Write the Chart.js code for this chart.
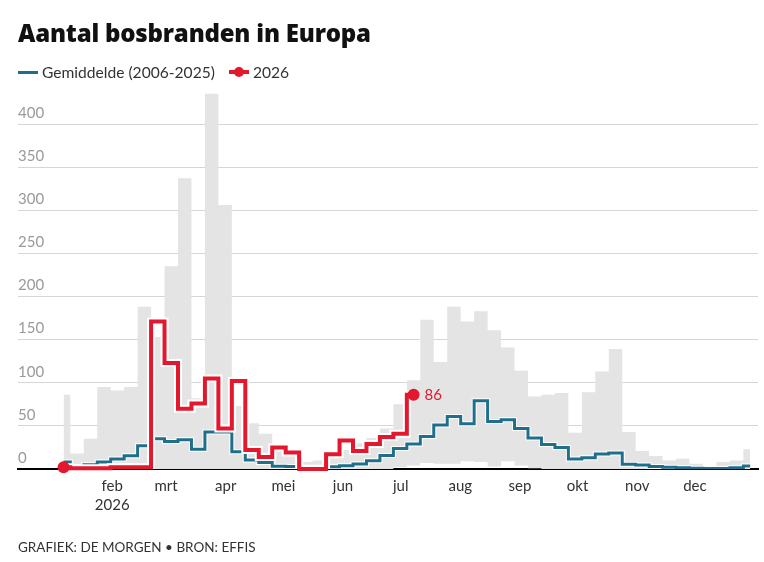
<!DOCTYPE html>
<html lang="nl">
<head>
<meta charset="utf-8">
<title>Aantal bosbranden in Europa</title>
<script src="https://cdn.jsdelivr.net/npm/chart.js@4.4.1/dist/chart.umd.min.js"></script>
<style>
  html, body { margin: 0; padding: 0; background: #fff; }
  body {
    width: 764px; height: 562px; position: relative; overflow: hidden;
    font-family: Lato, "Open Sans", sans-serif; color: #222;
  }
  #chart-wrap { position: absolute; left: 0; top: 0; width: 764px; height: 562px; }
  h1 {
    position: absolute; left: 18px; top: 16px; margin: 0;
    font-family: "Open Sans", Lato, sans-serif;
    font-size: 24px; font-weight: 800; color: #111; letter-spacing: -0.2px;
  }
  .legend {
    position: absolute; left: 18px; top: 62px; height: 20px;
    display: flex; align-items: center; font-size: 15.6px; color: #333;
  }
  .legend .item { display: flex; align-items: center; margin-right: 14px; }
  .swatch { position: relative; width: 20px; margin-right: 4px; }
  .swatch.avg { height: 3px; background: #1f6f8b; }
  .swatch.cur { height: 4px; background: #e3172d; }
  .swatch.cur::after {
    content: ''; position: absolute; left: 5px; top: -3px;
    width: 10px; height: 10px; border-radius: 50%; background: #e3172d;
  }
  .footer {
    position: absolute; left: 18px; top: 539px;
    font-size: 13.5px; color: #333;
  }
</style>
</head>
<body>
<div id="chart-wrap"><canvas id="fires-chart"></canvas></div>
<h1>Aantal bosbranden in Europa</h1>
<div class="legend">
  <div class="item"><span class="swatch avg"></span>Gemiddelde (2006-2025)</div>
  <div class="item"><span class="swatch cur"></span>2026</div>
</div>
<div class="footer">GRAFIEK: DE MORGEN • BRON: EFFIS</div>

<script>
// weeknummers (x) en waarden per week
const weeks = [1, 2, 3, 4, 5, 6, 7, 8, 9, 10, 11, 12, 13, 14, 15, 16, 17, 18, 19, 20,
  21, 22, 23, 24, 25, 26, 27, 28, 29, 30, 31, 32, 33, 34, 35, 36, 37, 38, 39, 40,
  41, 42, 43, 44, 45, 46, 47, 48, 49, 50, 51, 52];

// hoogste en laagste weekwaarde 2006-2025 (grijze band)
const maxValues = [86, 18, 35, 95, 91, 95, 188, 153, 235, 337, 82, 435, 306, 73, 53, 41, 28, 20, 8, 10,
  15, 22, 30, 36, 47, 75, 103, 173, 124, 188, 171, 183, 161, 141, 114, 84, 86, 88, 42, 89,
  113, 139, 43, 21, 15, 10, 12, 6, 2, 8, 10, 23];
const minValues = [0, 0, 0, 0, 0, 0, 0, 0, 0, 0, 0, 0, 0, 0, 0, 0, 0, 0, 0, 0,
  0, 0, 0, 0, 0, 2, 4, 7, 6, 6, 9, 8, 3, 9, 4, 1, 0, 0, 0, 0,
  0, 0, 0, 0, 0, 0, 0, 0, 0, 0, 0, 0];

// gemiddelde 2006-2025
const avgValues = [8, 3, 5, 8, 11.5, 15.5, 27, 35, 32, 34, 23, 43, 43, 20, 10.5, 7.6, 3.2, 2.8, 2, 2,
  2.7, 3.9, 5.7, 9.5, 15.7, 23.8, 29, 37.6, 51, 61, 52.5, 79, 55, 57, 47, 36, 28.5, 25, 11.5, 13,
  17.5, 18.5, 5.5, 4.5, 3, 2, 1.5, 0.8, 0.5, 0.5, 1.5, 3.5];

// 2026 tot nu toe
const values2026 = [2, 1, 1, 1, 2, 2, 2, 171, 123, 70, 76, 105, 47, 102, 22, 14, 25, 19, 0, 0,
  17, 33, 21, 29, 37, 41, 86];

const monthStarts = [31, 59, 90, 120, 151, 181, 212, 243, 273, 304, 334];
const monthNames = ['feb', 'mrt', 'apr', 'mei', 'jun', 'jul', 'aug', 'sep', 'okt', 'nov', 'dec'];
const yTicks = [0, 50, 100, 150, 200, 250, 300, 350, 400];

const BLUE = '#1f6f8b';
const RED = '#e3172d';
const GREY = '#e4e4e4';

// dag van het jaar waarop elke week valt
const weekDay = w => 5.7 + 7 * (w - 1);
const series = vals => vals.map((v, i) => ({ x: weekDay(weeks[i]), y: v }));

const lastIdx = values2026.length - 1;
const redRadius = values2026.map((_, i) => (i === 0 || i === lastIdx ? 6 : 0));

// ── label "86" naast het laatste punt ──────────────────────
const endLabel = {
  id: 'endLabel',
  afterDatasetsDraw(chart) {
    const meta = chart.getDatasetMeta(5);
    const pt = meta.data[lastIdx];
    const ctx = chart.ctx;
    ctx.save();
    ctx.font = '15px Lato, sans-serif';
    ctx.fillStyle = RED;
    ctx.textBaseline = 'middle';
    ctx.fillText(String(values2026[lastIdx]), pt.x + 11, pt.y);
    ctx.restore();
  }
};

const line = {
  stepped: 'middle',
  pointRadius: 0,
  pointHoverRadius: 0,
  fill: false,
};

new Chart(document.getElementById('fires-chart'), {
  type: 'line',
  data: {
    datasets: [
      { ...line, label: 'min', data: series(minValues), borderWidth: 0, borderColor: 'rgba(0,0,0,0)', order: 6 },
      { ...line, label: 'max', data: series(maxValues), borderWidth: 0, borderColor: 'rgba(0,0,0,0)',
        backgroundColor: GREY, fill: '-1', order: 5 },
      { ...line, label: 'halo gem', data: series(avgValues), borderColor: '#fff', borderWidth: 5, order: 4 },
      { ...line, label: 'Gemiddelde (2006-2025)', data: series(avgValues), borderColor: BLUE, borderWidth: 3, order: 3 },
      { ...line, label: 'halo 2026', data: series(values2026), borderColor: '#fff', borderWidth: 8, order: 2 },
      { ...line, label: '2026', data: series(values2026), borderColor: RED, borderWidth: 4,
        pointRadius: redRadius, pointBackgroundColor: RED, pointBorderWidth: 0, clip: false, order: 1 },
    ]
  },
  options: {
    responsive: true,
    maintainAspectRatio: false,
    animation: false,
    events: [],
    layout: { padding: { left: 18, right: 0, top: 89.5, bottom: 39.5 } },
    plugins: {
      legend: { display: false },
      tooltip: { enabled: false },
    },
    scales: {
      x: {
        type: 'linear',
        min: -18,
        max: 366.8,
        afterBuildTicks: axis => { axis.ticks = monthStarts.map(v => ({ value: v })); },
        ticks: {
          autoSkip: false,
          maxRotation: 0,
          padding: 8,
          color: '#333',
          font: { family: 'Lato', size: 15, lineHeight: 1.25 },
          callback: v => {
            const name = monthNames[monthStarts.indexOf(v)];
            return name === 'feb' ? [name, '2026'] : name;
          }
        },
        grid: { display: false, drawTicks: false },
        border: { display: true, color: '#000', width: 2 },
      },
      y: {
        min: 0,
        max: 440,
        afterBuildTicks: axis => { axis.ticks = yTicks.map(v => ({ value: v })); },
        ticks: {
          mirror: true,
          padding: 0,
          labelOffset: -11,
          color: '#9a9a9a',
          font: { family: 'Lato', size: 15 },
        },
        grid: { color: '#d6d6d6', lineWidth: 1, drawTicks: false },
        border: { display: false },
      }
    }
  },
  plugins: [endLabel]
});
</script>
</body>
</html>
